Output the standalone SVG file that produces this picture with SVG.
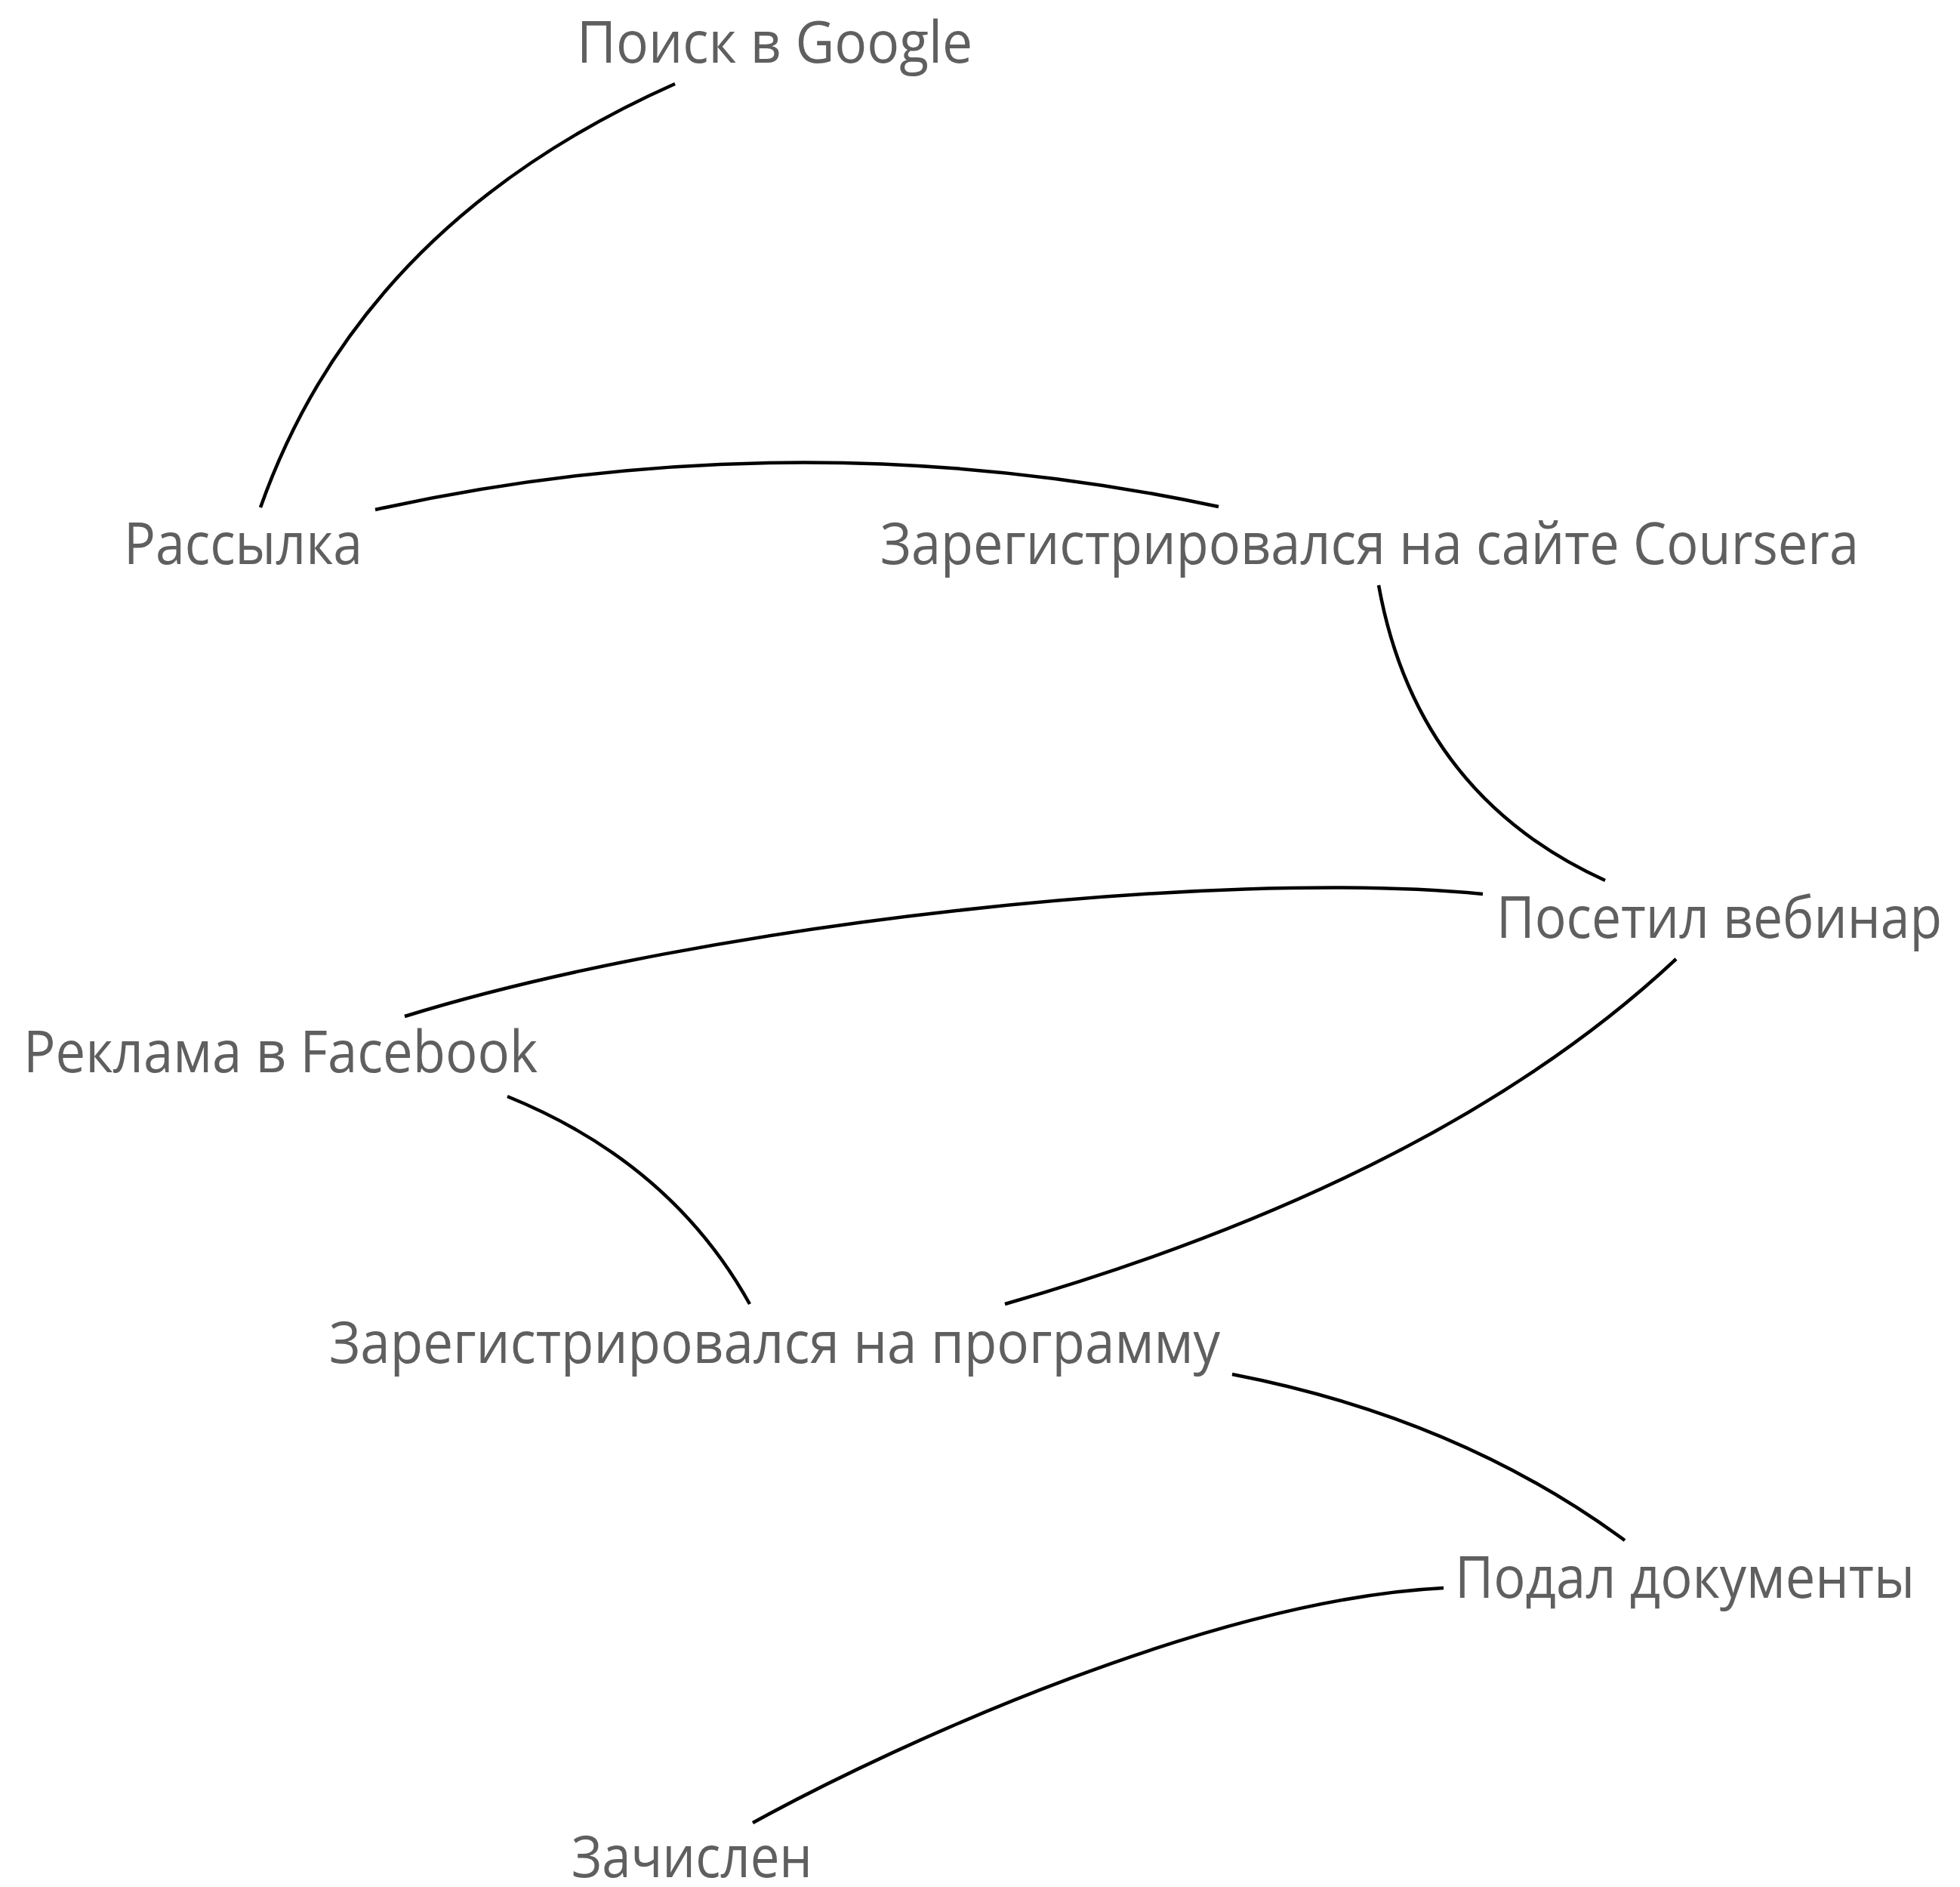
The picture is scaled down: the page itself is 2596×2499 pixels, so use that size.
<svg xmlns="http://www.w3.org/2000/svg" width="2596" height="2499" viewBox="0 0 2596 2499">
<style>
.lbl{font-family:"Open Sans","Noto Sans","Liberation Sans",sans-serif;font-size:77px;fill:#5f5f5f}
.edge{fill:none;stroke:#000;stroke-width:4.5}
</style>
<rect width="2596" height="2499" fill="#fff"/>
<g id="connectors">
<path class="edge" d="M894,111 Q478,296 345,672"/>
<path class="edge" d="M497,675 Q1056,552 1614,671"/>
<path class="edge" d="M1826,775 Q1876,1052 2126,1166"/>
<path class="edge" d="M536,1346 C936,1222 1614,1150 1964,1184"/>
<path class="edge" d="M672,1452 Q889,1540 993,1727"/>
<path class="edge" d="M2220,1270 Q1910,1560 1331,1727"/>
<path class="edge" d="M1632,1820 Q1932,1878 2152,2040"/>
<path class="edge" d="M1912,2103 C1612,2118 1197,2304 997,2414"/>
</g>
<g id="n-google"><text class="lbl" x="764" y="83" textLength="524" lengthAdjust="spacingAndGlyphs">Поиск в Google</text></g>
<g id="n-rassylka"><text class="lbl" x="164" y="747" textLength="316" lengthAdjust="spacingAndGlyphs">Рассылка</text></g>
<g id="n-coursera"><text class="lbl" x="1166" y="747" textLength="1296" lengthAdjust="spacingAndGlyphs">Зарегистрировался на сайте Coursera</text></g>
<g id="n-webinar"><text class="lbl" x="1982" y="1242" textLength="590" lengthAdjust="spacingAndGlyphs">Посетил вебинар</text></g>
<g id="n-facebook"><text class="lbl" x="31" y="1420" textLength="681" lengthAdjust="spacingAndGlyphs">Реклама в Facebook</text></g>
<g id="n-program"><text class="lbl" x="436" y="1805" textLength="1180" lengthAdjust="spacingAndGlyphs">Зарегистрировался на программу</text></g>
<g id="n-docs"><text class="lbl" x="1927" y="2116" textLength="609" lengthAdjust="spacingAndGlyphs">Подал документы</text></g>
<g id="n-enrolled"><text class="lbl" x="757" y="2486" textLength="319" lengthAdjust="spacingAndGlyphs">Зачислен</text></g>
</svg>
